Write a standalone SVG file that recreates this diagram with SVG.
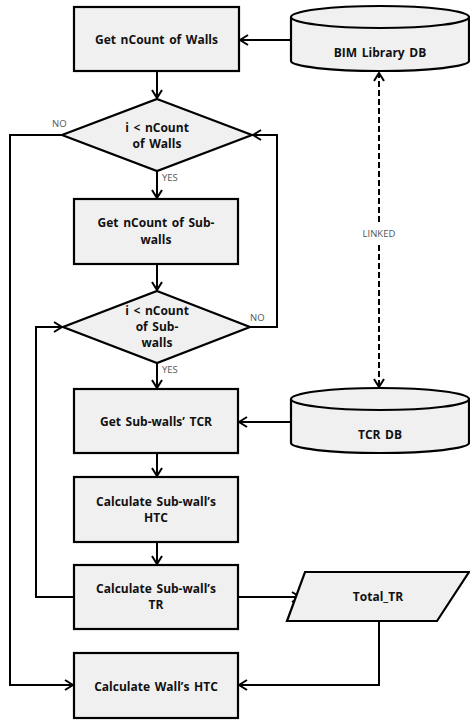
<svg xmlns="http://www.w3.org/2000/svg" width="470" height="722" viewBox="0 0 470 722">
<style>
.shape{fill:#f0f0f0;stroke:#000;stroke-width:2.2}
.t{font-family:"Open Sans","Noto Sans",sans-serif;font-weight:bold;font-size:12px;word-spacing:1.5px;text-anchor:middle;fill:#111}
.l{font-family:"Open Sans","Noto Sans",sans-serif;font-size:9.5px;fill:#555}
.c{fill:none;stroke:#000;stroke-width:2}
.d{fill:none;stroke:#000;stroke-width:2;stroke-dasharray:6,3}
</style>
<defs>
<marker id="a" viewBox="0 0 10 12" refX="9" refY="6" markerWidth="10" markerHeight="12" markerUnits="userSpaceOnUse" orient="auto-start-reverse">
<path d="M1,1 L9,6 L1,11" fill="none" stroke="#000" stroke-width="2"/>
</marker>
</defs>
<g id="connectors">
<path class="c" d="M157,71 V98" marker-end="url(#a)"/>
<path class="c" d="M157,171 V198" marker-end="url(#a)"/>
<path class="c" d="M157,264 V290" marker-end="url(#a)"/>
<path class="c" d="M157,363 V388" marker-end="url(#a)"/>
<path class="c" d="M157,453 V476" marker-end="url(#a)"/>
<path class="c" d="M157,542 V564" marker-end="url(#a)"/>
<path class="c" d="M291,40 H240" marker-end="url(#a)"/>
<path class="c" d="M291,422 H239" marker-end="url(#a)"/>
<path class="c" d="M62,135 H10 V685 H73" marker-end="url(#a)"/>
<path class="c" d="M250,327 H277 V135 H253" marker-end="url(#a)"/>
<path class="c" d="M74,597 H36 V327 H62" marker-end="url(#a)"/>
<path class="c" d="M238,597 H300" marker-end="url(#a)"/>
<path class="c" d="M379,621 V685 H239" marker-end="url(#a)"/>
<path class="d" d="M379,222 V73" marker-end="url(#a)"/>
<path class="d" d="M379,245 V387" marker-end="url(#a)"/>
<text class="l" x="379" y="237" text-anchor="middle">LINKED</text>
<text class="l" x="52" y="127">NO</text>
<text class="l" x="250" y="321">NO</text>
<text class="l" x="162" y="181">YES</text>
<text class="l" x="162" y="373">YES</text>
</g>
<g id="get-walls">
<rect class="shape" x="74" y="7" width="165" height="64"/>
<text class="t" x="156.5" y="44">Get nCount of Walls</text>
</g>
<g id="bim-db">
<path class="shape" d="M291,17 A89,11 0 0 1 469,17 V61 A89,10 0 0 1 291,61 Z"/>
<path class="shape" d="M291,17 A89,11 0 0 0 469,17" fill="none"/>
<text class="t" x="380" y="57">BIM Library DB</text>
</g>
<g id="cond-walls">
<polygon class="shape" points="157,99 252,135 157,171 62,135"/>
<text class="t" x="157" y="132">i &lt; nCount</text>
<text class="t" x="157" y="148">of Walls</text>
</g>
<g id="get-subwalls">
<rect class="shape" x="74" y="199" width="164" height="65"/>
<text class="t" x="156" y="227">Get nCount of Sub-</text>
<text class="t" x="156" y="244">walls</text>
</g>
<g id="cond-subwalls">
<polygon class="shape" points="157,291 250,327 157,363 63,327"/>
<text class="t" x="157" y="315">i &lt; nCount</text>
<text class="t" x="157" y="331">of Sub-</text>
<text class="t" x="157" y="347">walls</text>
</g>
<g id="get-tcr">
<rect class="shape" x="74" y="389" width="164" height="64"/>
<text class="t" x="156" y="426">Get Sub-walls’ TCR</text>
</g>
<g id="tcr-db">
<path class="shape" d="M291,399 A89,11 0 0 1 469,399 V443 A89,10 0 0 1 291,443 Z"/>
<path class="shape" d="M291,399 A89,11 0 0 0 469,399" fill="none"/>
<text class="t" x="380" y="439">TCR DB</text>
</g>
<g id="calc-htc">
<rect class="shape" x="74" y="477" width="164" height="65"/>
<text class="t" x="156" y="506">Calculate Sub-wall’s</text>
<text class="t" x="156" y="522">HTC</text>
</g>
<g id="calc-tr">
<rect class="shape" x="74" y="565" width="164" height="64"/>
<text class="t" x="156" y="593">Calculate Sub-wall’s</text>
<text class="t" x="156" y="609">TR</text>
</g>
<g id="total-tr">
<polygon class="shape" points="305,572 469,572 437,621 287,621"/>
<text class="t" x="378" y="601">Total_TR</text>
</g>
<g id="calc-wall-htc">
<rect class="shape" x="74" y="653" width="164" height="65"/>
<text class="t" x="156" y="691">Calculate Wall’s HTC</text>
</g>
</svg>
